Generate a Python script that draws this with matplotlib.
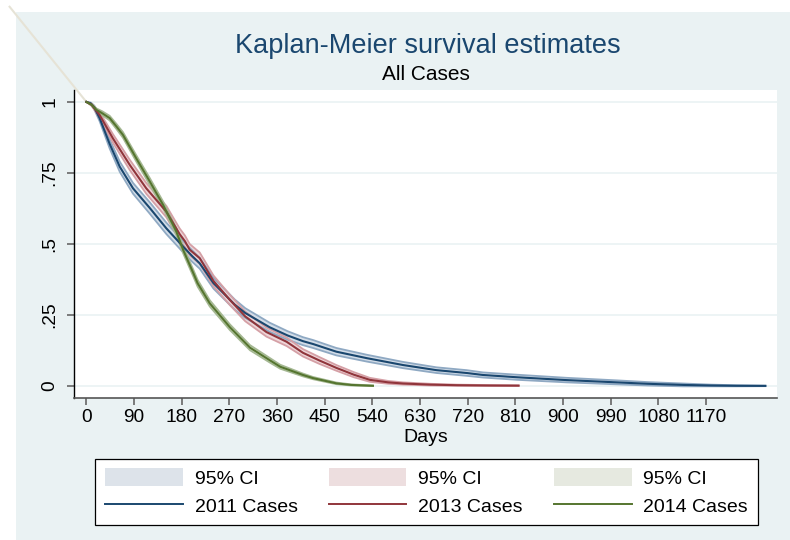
import matplotlib
matplotlib.use("Agg")
import matplotlib.pyplot as plt
from matplotlib.patches import Rectangle, Patch
from matplotlib.lines import Line2D

plt.rcParams["font.family"] = ["Liberation Sans", "DejaVu Sans"]

# --- data (days, survival, 95% CI half width) ---
blue_days = [0, 8, 15, 25, 44, 63, 88, 120, 151, 182, 200, 214, 240, 280, 300, 346, 380,
             409, 428, 472, 530, 598, 661, 718, 749, 813, 907, 1002, 1060, 1127, 1180, 1227, 1282]
blue_surv = [1.0, 0.995, 0.98, 0.943, 0.852, 0.772, 0.696, 0.626, 0.555, 0.492, 0.457, 0.432,
             0.362, 0.287, 0.257, 0.207, 0.178, 0.158, 0.148, 0.121, 0.098, 0.074, 0.056, 0.046,
             0.039, 0.031, 0.021, 0.013, 0.008, 0.004, 0.002, 0.001, 0.0006]
blue_ci = [0, 0.003, 0.007, 0.011, 0.016, 0.018, 0.019, 0.02, 0.02, 0.02, 0.02, 0.019, 0.019,
           0.018, 0.017, 0.016, 0.015, 0.014, 0.014, 0.013, 0.012, 0.011, 0.01, 0.01, 0.009,
           0.009, 0.008, 0.007, 0.006, 0.005, 0.003, 0.002, 0.001]

red_days = [0, 10, 25, 50, 82, 113, 151, 176, 186, 195, 214, 240, 271, 300, 340, 378, 409, 440,
            472, 505, 535, 570, 598, 650, 700, 760, 816]
red_surv = [1.0, 0.99, 0.954, 0.872, 0.778, 0.696, 0.614, 0.535, 0.51, 0.48, 0.45, 0.37, 0.303,
            0.245, 0.19, 0.156, 0.117, 0.09, 0.064, 0.04, 0.022, 0.013, 0.009, 0.005, 0.003,
            0.002, 0.0015]
red_ci = [0, 0.004, 0.01, 0.015, 0.018, 0.019, 0.02, 0.02, 0.02, 0.02, 0.02, 0.019, 0.018,
          0.017, 0.016, 0.015, 0.013, 0.012, 0.01, 0.009, 0.007, 0.005, 0.004, 0.003, 0.002,
          0.0015, 0.001]

green_days = [0, 10, 19, 30, 44, 57, 69, 94, 120, 145, 170, 183, 202, 210, 233, 271, 309, 347,
              366, 409, 428, 472, 500, 541]
green_surv = [1.0, 0.99, 0.972, 0.96, 0.943, 0.913, 0.884, 0.802, 0.719, 0.637, 0.543, 0.478,
              0.397, 0.362, 0.291, 0.207, 0.135, 0.09, 0.068, 0.039, 0.028, 0.0095, 0.004, 0.001]
green_ci = [0, 0.003, 0.005, 0.007, 0.008, 0.009, 0.01, 0.011, 0.012, 0.012, 0.012, 0.012, 0.012,
            0.012, 0.011, 0.01, 0.009, 0.008, 0.007, 0.005, 0.004, 0.003, 0.002, 0.001]

# stray CI segment that leaks out of the plot region in the original
stray_days = [-145, 0]
stray_surv = [1.335, 1.0]

series = [
    ("2011 Cases", blue_days, blue_surv, blue_ci, "#1A476F", "#8FA9C3", "#D3DDE8", "#DDE3EA"),
    ("2013 Cases", red_days, red_surv, red_ci, "#90353B", "#D5A0A6", "#EED6D9", "#EDDEDF"),
    ("2014 Cases", green_days, green_surv, green_ci, "#55752F", "#A5B893", "#DCE3D3", "#E6E9E0"),
]
xticks = list(range(0, 1171, 90))
yticks = [0, 0.25, 0.5, 0.75, 1]
ylabels = ["0", ".25", ".5", ".75", "1"]

BG = "#EAF2F3"

fig = plt.figure(figsize=(7.9, 5.4), dpi=100, facecolor="white")
fig.patches.append(Rectangle((16 / 790, 0), 1, 1 - 12 / 540, transform=fig.transFigure,
                             facecolor=BG, edgecolor="none", zorder=-5))

ax = fig.add_axes([74 / 790, 1 - 398 / 540, 703 / 790, 308 / 540])
ax.set_facecolor("white")

for name, d, s, c, lc, ec, fc, _ in series:
    lo = [v - h for v, h in zip(s, c)]
    hi = [v + h for v, h in zip(s, c)]
    ax.fill_between(d, lo, hi, facecolor=fc, edgecolor="none", zorder=2)
    ax.plot(d, lo, color=ec, lw=1.3, zorder=2.5)
    ax.plot(d, hi, color=ec, lw=1.3, zorder=2.5)

ax.plot(stray_days, stray_surv, color="#E6E3D6", lw=1.5, clip_on=False, zorder=2)

for name, d, s, c, lc, ec, fc, _ in series:
    ax.plot(d, s, color=lc, lw=1.5, zorder=3)

ax.set_xlim(-23.4, 1304)
ax.set_ylim(-0.042, 1.042)
ax.set_xticks(xticks)
ax.set_yticks(yticks)
ax.set_yticklabels(ylabels, rotation=90, va="center")
ax.grid(axis="y", color=BG, lw=1.2, zorder=1)
ax.set_axisbelow(True)
for sp in ("top", "right"):
    ax.spines[sp].set_visible(False)
ax.spines["left"].set_color("black")
ax.spines["left"].set_linewidth(1.0)
ax.spines["bottom"].set_color("#555555")
ax.spines["bottom"].set_linewidth(1.2)
ax.tick_params(axis="both", length=5, width=1.2, color="#666666", labelsize=13.8)
ax.tick_params(axis="x", pad=3)
ax.tick_params(axis="y", pad=6)

fig.text(428 / 790, 1 - 46 / 540, "Kaplan-Meier survival estimates", color="#1A476F",
         fontsize=19.5, ha="center", va="center")
fig.text(426 / 790, 1 - 75 / 540, "All Cases", color="black", fontsize=15,
         ha="center", va="center")
fig.text(426 / 790, 1 - 438 / 540, "Days", color="black", fontsize=14,
         ha="center", va="center")

handles, labels = [], []
for name, d, s, c, lc, ec, fc, sw in series:
    handles += [Patch(facecolor=sw, edgecolor="none"), Line2D([], [], color=lc, lw=1.4)]
    labels += ["95% CI", name]

leg = fig.legend(handles, labels, ncol=3, loc="center",
                 bbox_to_anchor=(426.5 / 790, 1 - 492 / 540), fontsize=14,
                 frameon=True, fancybox=False, framealpha=1, edgecolor="black",
                 handlelength=4.0, handleheight=1.0, handletextpad=0.6,
                 columnspacing=1.6, labelspacing=0.45, borderpad=0.5)
leg.get_frame().set_linewidth(0.9)

fig.savefig("out.png", dpi=100, facecolor="white")
